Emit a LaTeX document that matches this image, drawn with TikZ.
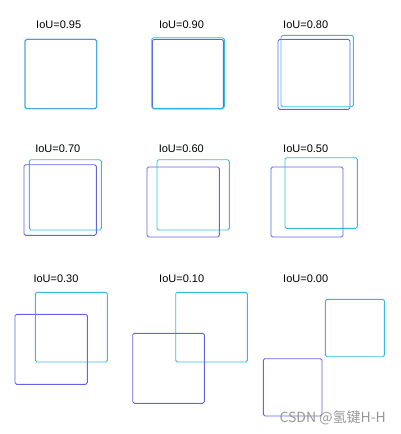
\documentclass[tikz,border=0pt]{standalone}
\usepackage{fontspec}
\setmainfont{Liberation Sans}
\newfontfamily\cjk{Noto Sans CJK SC}
\usepackage{tikz}
\usepackage{xcolor}
\usetikzlibrary{positioning}
\definecolor{cGt}{RGB}{30,180,225}
\definecolor{cPred}{RGB}{72,72,228}
\tikzset{
	gtbox/.style={draw=cGt, line width=0.9pt, rounded corners=1.6pt, draw opacity=0.9},
	predbox/.style={draw=cPred, line width=0.9pt, rounded corners=1.6pt, draw opacity=0.85},
	ioulabel/.style={font=\fontsize{11}{13}\selectfont, text=black, inner sep=0pt},
}
\begin{document}
\begin{tikzpicture}[x=1pt, y=-1pt]
	\useasboundingbox (0,0) rectangle (400,434);
	% IoU value / label position / gt box / predicted box
	\foreach \iou/\idx/\lx/\ly/\ga/\gb/\gc/\gd/\pa/\pb/\pc/\pd in {
		0.95/1/58.7/24.3/25/39.3/96.7/108.7/25/39.3/96.7/108.7,
		0.90/2/181.5/24.3/151.7/37.7/224.3/108.3/152.3/39.3/223.3/109,
		0.80/3/305.7/24.3/281/35.3/353.3/106.7/278/39.3/350/109.3,
		0.70/4/57.8/148.3/29.3/159.7/101.3/230/24/164.7/96.3/235.3,
		0.60/5/181.3/148.3/157/159.7/229.3/230/147/167/219.3/237,
		0.50/6/305.7/148.3/285/157.7/357.3/228.3/271/167/343/237,
		0.30/7/56/279/35.3/292.3/107.3/362/15/314.3/87.3/384.3,
		0.10/8/181.7/279/175.7/292.3/247.3/362/132.7/333.3/204.3/403.3,
		0.00/9/305.7/279/325.3/299.3/384.3/356.7/263.3/358.7/322/416} {
		\node[ioulabel] (l\idx) at (\lx,\ly) {IoU=\iou};
		\draw[predbox] (\pa,\pb) rectangle (\pc,\pd);
		\draw[gtbox] (\ga,\gb) rectangle (\gc,\gd);
	}
	\node[font=\cjk\fontsize{14}{16}\selectfont, text=black!40, inner sep=0pt, anchor=east] (wm) at (386,417.5) {CSDN @氢键H-H};
\end{tikzpicture}
\end{document}
